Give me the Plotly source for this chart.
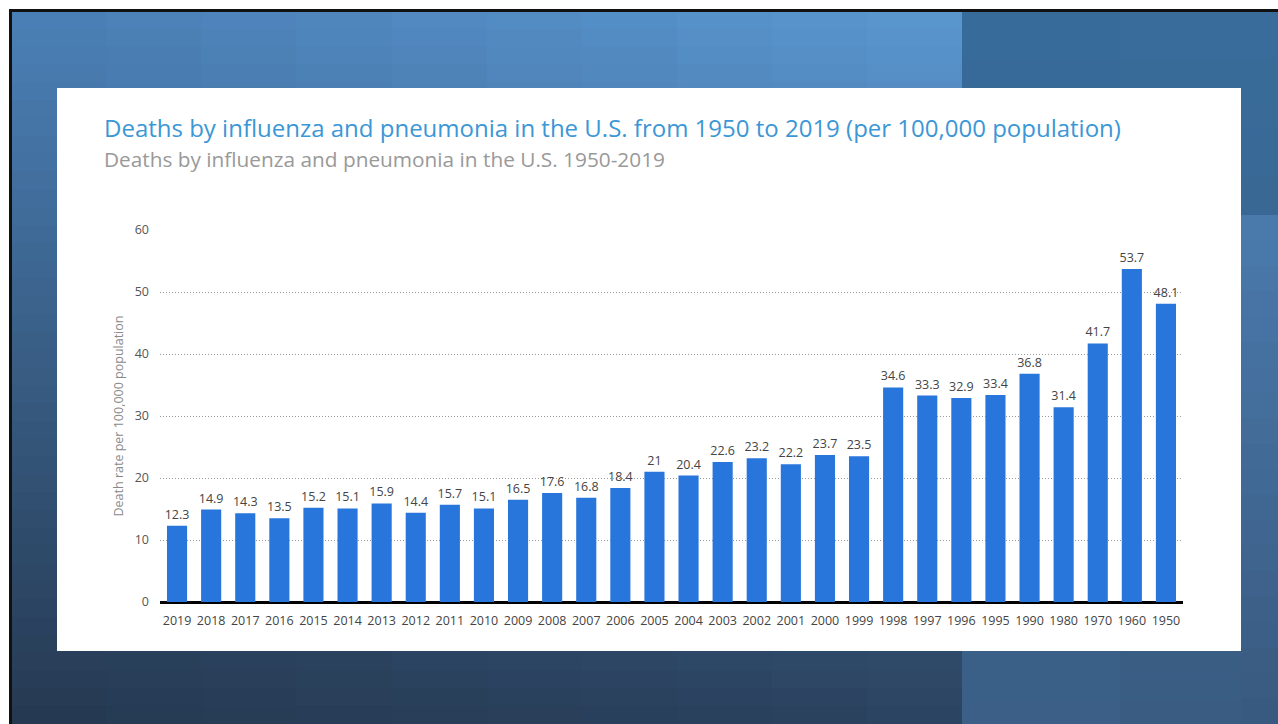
import plotly.graph_objects as go

years = ["2019","2018","2017","2016","2015","2014","2013","2012","2011","2010",
         "2009","2008","2007","2006","2005","2004","2003","2002","2001","2000",
         "1999","1998","1997","1996","1995","1990","1980","1970","1960","1950"]
rates = [12.3,14.9,14.3,13.5,15.2,15.1,15.9,14.4,15.7,15.1,
         16.5,17.6,16.8,18.4,21,20.4,22.6,23.2,22.2,23.7,
         23.5,34.6,33.3,32.9,33.4,36.8,31.4,41.7,53.7,48.1]

W, H = 1278, 724
FONT = "Open Sans, Noto Sans, sans-serif"

def px(x):
    return x / W

def py(y):
    return 1 - y / H

def hx(c):
    return [int(c[i:i+2], 16) for i in (1, 3, 5)]

def mix(c1, c2, t):
    return [c1[k] + (c2[k] - c1[k]) * t for k in range(3)]

def tohex(c):
    return "#" + "".join(f"{max(0, min(255, round(v))):02x}" for v in c)

def bilinear(tl, tr, bl, br, u, v):
    top = mix(hx(tl), hx(tr), u)
    bot = mix(hx(bl), hx(br), u)
    return tohex(mix(top, bot, v))

shapes = []
shapes.append(dict(type="rect", xref="paper", yref="paper", x0=0, x1=1, y0=0, y1=1,
                   fillcolor="white", line_width=0, layer="below"))

def panel(x0, x1, y0, y1, tl, tr, bl, br, nx, ny):
    for j in range(ny):
        v = (j + 0.5) / ny
        ya = y0 + (y1 - y0) * j / ny
        yb = y0 + (y1 - y0) * (j + 1) / ny
        for i in range(nx):
            u = (i + 0.5) / nx
            xa = x0 + (x1 - x0) * i / nx
            xb = x0 + (x1 - x0) * (i + 1) / nx
            shapes.append(dict(type="rect", xref="paper", yref="paper",
                               x0=px(xa), x1=px(min(x1, xb + 1)),
                               y0=py(min(y1, yb + 1)), y1=py(ya),
                               fillcolor=bilinear(tl, tr, bl, br, u, v),
                               line_width=0, layer="below"))

# left slide panel
panel(11, 962, 11, 724, "#4a7fb5", "#5b98d1", "#253850", "#2b4360", 10, 40)
# right slide panel
panel(962, 1278, 11, 724, "#366b9a", "#3a6d9c", "#3c6189", "#3a5a80", 2, 30)
# right edge strip
panel(1241, 1278, 215, 724, "#4a7aad", "#4a7aad", "#3a5a80", "#38587d", 1, 20)
# black border
shapes.append(dict(type="rect", xref="paper", yref="paper", x0=px(9), x1=1,
                   y0=py(12), y1=py(9), fillcolor="#111", line_width=0, layer="below"))
shapes.append(dict(type="rect", xref="paper", yref="paper", x0=px(9), x1=px(12),
                   y0=0, y1=py(9), fillcolor="#111", line_width=0, layer="below"))
# white card
shapes.append(dict(type="rect", xref="paper", yref="paper", x0=px(57), x1=px(1241),
                   y0=py(651), y1=py(88), fillcolor="white", line_width=0, layer="below"))

fig = go.Figure()
fig.add_trace(go.Bar(
    x=years, y=rates, marker_color="#2876dc", marker_line_width=0,
    text=[f"{v:g}" for v in rates], textposition="outside", constraintext="none",
    textfont=dict(family=FONT, size=12.5, color="#444"), cliponaxis=False,
))

fig.update_layout(
    template="none",
    width=W, height=H, margin=dict(l=0, r=0, t=0, b=0, pad=0, autoexpand=False),
    paper_bgcolor="white", plot_bgcolor="rgba(0,0,0,0)",
    shapes=shapes, showlegend=False, bargap=0.41,
    xaxis=dict(domain=[px(160), px(1183)], type="category", automargin=False,
               tickfont=dict(family=FONT, size=12.5, color="#444"),
               showgrid=False, showline=False, ticks="", zeroline=False,
               ticklabelstandoff=9),
    yaxis=dict(domain=[py(602), py(230)], range=[0, 60], dtick=10, automargin=False,
               tickfont=dict(family=FONT, size=12.5, color="#555"),
               showgrid=True, gridcolor="#9a9a9a", griddash="1px,2px", gridwidth=1,
               zeroline=True, zerolinecolor="black", zerolinewidth=3,
               showline=False, ticks="", ticklabelstandoff=10,
               title=dict(text="Death rate per 100,000 population",
                          font=dict(family=FONT, size=12.5, color="#8a8a8a"), standoff=8)),
    annotations=[
        dict(text="Deaths by influenza and pneumonia in the U.S. from 1950 to 2019 (per 100,000 population)",
             xref="paper", yref="paper", x=px(102), y=py(127), xanchor="left", yanchor="middle",
             showarrow=False, font=dict(family=FONT, size=24, color="#3b97d6")),
        dict(text="Deaths by influenza and pneumonia in the U.S. 1950-2019",
             xref="paper", yref="paper", x=px(102), y=py(159), xanchor="left", yanchor="middle",
             showarrow=False, font=dict(family=FONT, size=20.8, color="#999")),
    ],
)

fig.write_html("out.html")
